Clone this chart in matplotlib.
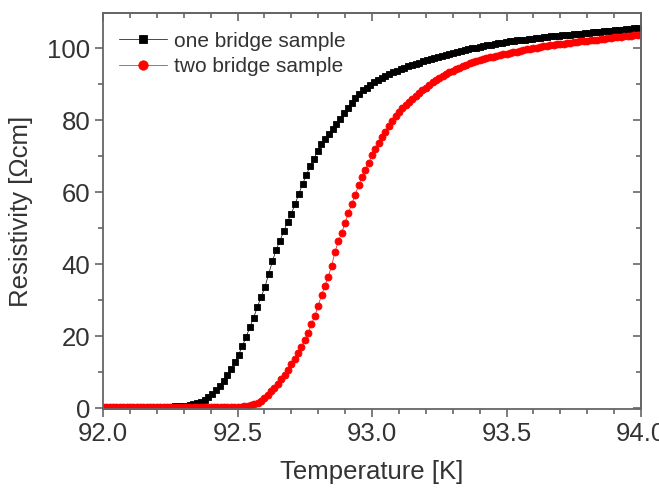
import matplotlib
matplotlib.use("Agg")
import matplotlib.pyplot as plt
from matplotlib.ticker import MultipleLocator

plt.rcParams['font.family'] = ['Liberation Sans', 'DejaVu Sans']

# one bridge sample (black squares)
black_temp = [
    92.000, 92.014, 92.028, 92.042, 92.056, 92.070, 92.084, 92.098, 92.112, 92.126,
    92.140, 92.154, 92.168, 92.182, 92.196, 92.210, 92.224, 92.238, 92.252, 92.266,
    92.280, 92.294, 92.308, 92.322, 92.336, 92.350, 92.364, 92.378, 92.392, 92.406,
    92.420, 92.434, 92.448, 92.462, 92.476, 92.490, 92.504, 92.518, 92.532, 92.546,
    92.560, 92.574, 92.588, 92.602, 92.616, 92.630, 92.644, 92.658, 92.672, 92.686,
    92.700, 92.714, 92.728, 92.742, 92.756, 92.770, 92.784, 92.798, 92.812, 92.826,
    92.840, 92.854, 92.868, 92.882, 92.896, 92.910, 92.924, 92.938, 92.952, 92.966,
    92.980, 92.994, 93.008, 93.022, 93.036, 93.050, 93.064, 93.078, 93.092, 93.106,
    93.120, 93.134, 93.148, 93.162, 93.176, 93.190, 93.204, 93.218, 93.232, 93.246,
    93.260, 93.274, 93.288, 93.302, 93.316, 93.330, 93.344, 93.358, 93.372, 93.386,
    93.400, 93.414, 93.428, 93.442, 93.456, 93.470, 93.484, 93.498, 93.512, 93.526,
    93.540, 93.554, 93.568, 93.582, 93.596, 93.610, 93.624, 93.638, 93.652, 93.666,
    93.680, 93.694, 93.708, 93.722, 93.736, 93.750, 93.764, 93.778, 93.792, 93.806,
    93.820, 93.834, 93.848, 93.862, 93.876, 93.890, 93.904, 93.918, 93.932, 93.946,
    93.960, 93.974, 93.988,
]
black_res = [
    0.5, 0.5, 0.5, 0.5, 0.5, 0.5, 0.5, 0.5, 0.5, 0.5,
    0.5, 0.5, 0.5, 0.5, 0.5, 0.5, 0.5, 0.5, 0.5, 0.6,
    0.6, 0.7, 0.8, 1.0, 1.2, 1.4, 1.9, 2.4, 3.2, 4.1,
    5.0, 6.2, 7.6, 9.2, 10.9, 12.9, 14.9, 17.3, 19.8, 22.6,
    25.2, 28.2, 31.0, 33.7, 37.4, 40.9, 44.1, 46.6, 49.2, 51.8,
    54.1, 56.7, 59.6, 62.3, 64.9, 67.2, 69.3, 71.4, 73.3, 74.9,
    76.3, 77.7, 79.1, 80.5, 82.0, 83.4, 84.8, 86.1, 87.3, 88.3,
    89.1, 89.9, 90.6, 91.2, 91.8, 92.3, 92.8, 93.3, 93.8, 94.2,
    94.6, 95.0, 95.4, 95.7, 96.0, 96.4, 96.7, 97.0, 97.3, 97.6,
    97.9, 98.2, 98.5, 98.8, 99.0, 99.2, 99.5, 99.7, 100.0, 100.2,
    100.4, 100.6, 100.8, 101.0, 101.2, 101.4, 101.6, 101.7, 101.9, 102.0,
    102.2, 102.3, 102.4, 102.6, 102.7, 102.8, 102.9, 103.0, 103.1, 103.3,
    103.4, 103.5, 103.6, 103.7, 103.8, 103.9, 104.0, 104.1, 104.2, 104.3,
    104.4, 104.5, 104.6, 104.7, 104.8, 104.9, 105.0, 105.1, 105.2, 105.3,
    105.4, 105.5, 105.6,
]

# two bridge sample (red circles)
red_temp = [
    92.0000, 92.0125, 92.0250, 92.0375, 92.0500, 92.0625, 92.0750, 92.0875,
    92.1000, 92.1125, 92.1250, 92.1375, 92.1500, 92.1625, 92.1750, 92.1875,
    92.2000, 92.2125, 92.2250, 92.2375, 92.2500, 92.2625, 92.2750, 92.2875,
    92.3000, 92.3125, 92.3250, 92.3375, 92.3500, 92.3625, 92.3750, 92.3875,
    92.4000, 92.4125, 92.4250, 92.4375, 92.4500, 92.4625, 92.4750, 92.4875,
    92.5000, 92.5125, 92.5250, 92.5375, 92.5500, 92.5625, 92.5750, 92.5875,
    92.6000, 92.6125, 92.6250, 92.6375, 92.6500, 92.6625, 92.6750, 92.6875,
    92.7000, 92.7125, 92.7250, 92.7375, 92.7500, 92.7625, 92.7750, 92.7875,
    92.8000, 92.8125, 92.8250, 92.8375, 92.8500, 92.8625, 92.8750, 92.8875,
    92.9000, 92.9125, 92.9250, 92.9375, 92.9500, 92.9625, 92.9750, 92.9875,
    93.0000, 93.0125, 93.0250, 93.0375, 93.0500, 93.0625, 93.0750, 93.0875,
    93.1000, 93.1125, 93.1250, 93.1375, 93.1500, 93.1625, 93.1750, 93.1875,
    93.2000, 93.2125, 93.2250, 93.2375, 93.2500, 93.2625, 93.2750, 93.2875,
    93.3000, 93.3125, 93.3250, 93.3375, 93.3500, 93.3625, 93.3750, 93.3875,
    93.4000, 93.4125, 93.4250, 93.4375, 93.4500, 93.4625, 93.4750, 93.4875,
    93.5000, 93.5125, 93.5250, 93.5375, 93.5500, 93.5625, 93.5750, 93.5875,
    93.6000, 93.6125, 93.6250, 93.6375, 93.6500, 93.6625, 93.6750, 93.6875,
    93.7000, 93.7125, 93.7250, 93.7375, 93.7500, 93.7625, 93.7750, 93.7875,
    93.8000, 93.8125, 93.8250, 93.8375, 93.8500, 93.8625, 93.8750, 93.8875,
    93.9000, 93.9125, 93.9250, 93.9375, 93.9500, 93.9625, 93.9750, 93.9875,
    94.0000,
]
red_res = [
    0.4, 0.4, 0.4, 0.4, 0.4, 0.4, 0.4, 0.4,
    0.4, 0.4, 0.4, 0.4, 0.4, 0.4, 0.4, 0.4,
    0.4, 0.4, 0.4, 0.4, 0.4, 0.4, 0.4, 0.4,
    0.4, 0.4, 0.4, 0.4, 0.4, 0.4, 0.4, 0.4,
    0.4, 0.4, 0.4, 0.4, 0.4, 0.4, 0.4, 0.4,
    0.4, 0.4, 0.6, 0.8, 1.0, 1.2, 1.5, 2.0,
    2.9, 3.8, 4.8, 5.8, 6.9, 8.1, 9.4, 10.8,
    12.4, 13.8, 15.4, 17.0, 18.9, 20.9, 23.4, 25.7,
    28.5, 31.5, 34.0, 36.6, 39.6, 43.5, 46.4, 48.8,
    51.5, 54.3, 56.8, 59.4, 61.9, 64.2, 66.3, 68.2,
    70.3, 72.0, 73.6, 75.3, 76.8, 78.3, 79.8, 81.1,
    82.2, 83.3, 84.3, 85.1, 85.9, 86.7, 87.5, 88.3,
    89.1, 89.9, 90.6, 91.2, 91.8, 92.4, 92.9, 93.4,
    93.8, 94.2, 94.6, 95.0, 95.4, 95.8, 96.1, 96.4,
    96.7, 97.0, 97.2, 97.5, 97.7, 97.9, 98.1, 98.3,
    98.5, 98.7, 98.9, 99.1, 99.3, 99.5, 99.7, 99.9,
    100.0, 100.2, 100.3, 100.5, 100.6, 100.8, 100.9, 101.1,
    101.2, 101.3, 101.4, 101.5, 101.7, 101.8, 101.9, 102.0,
    102.1, 102.2, 102.3, 102.4, 102.6, 102.7, 102.8, 102.9,
    103.0, 103.1, 103.2, 103.3, 103.4, 103.5, 103.6, 103.7,
    103.8,
]

series_labels = ["one bridge sample", "two bridge sample"]

text_col = "#333333"
spine_col = "#666666"

fig = plt.figure(figsize=(6.59, 4.96), dpi=100)
ax = fig.add_axes([0.1563, 0.1744, 0.8164, 0.7994])

ax.plot(black_temp, black_res, color="black", lw=0.5, marker="s", ms=4.6,
        mec="black", mew=0.6, label=series_labels[0])
ax.plot(red_temp, red_res, color="red", lw=0.5, marker="o", ms=5.0,
        mec="red", mew=0.6, label=series_labels[1])

ax.set_xlim(92.0, 94.0)
ax.set_ylim(-0.3, 109.8)
ax.xaxis.set_major_locator(MultipleLocator(0.5))
ax.xaxis.set_minor_locator(MultipleLocator(0.1))
ax.yaxis.set_major_locator(MultipleLocator(20))
ax.yaxis.set_minor_locator(MultipleLocator(10))
ax.xaxis.set_major_formatter(plt.FormatStrFormatter("%.1f"))

for sp in ax.spines.values():
    sp.set_color(spine_col)
    sp.set_linewidth(1.3)

ax.tick_params(which="both", direction="out", color=spine_col, width=1.2,
               labelsize=18.5, labelcolor=text_col, pad=3)
ax.tick_params(which="major", length=6)
ax.tick_params(which="minor", length=3.5)

# inward ticks on the top and right, as the reference has
top = ax.secondary_xaxis("top")
top.xaxis.set_major_locator(MultipleLocator(0.5))
top.xaxis.set_minor_locator(MultipleLocator(0.1))
top.tick_params(which="both", direction="in", color=spine_col, width=1.2,
                labeltop=False)
top.tick_params(which="major", length=6)
top.tick_params(which="minor", length=3.5)
top.spines["top"].set_color(spine_col)
top.spines["top"].set_linewidth(1.3)

right = ax.secondary_yaxis("right")
right.yaxis.set_major_locator(MultipleLocator(20))
right.yaxis.set_minor_locator(MultipleLocator(10))
right.tick_params(which="both", direction="in", color=spine_col, width=1.2,
                  labelright=False)
right.tick_params(which="major", length=6)
right.tick_params(which="minor", length=3.5)
right.spines["right"].set_color(spine_col)
right.spines["right"].set_linewidth(1.3)

ax.set_xlabel("Temperature [K]", fontsize=18.5, color=text_col, labelpad=10)
ax.set_ylabel("Resistivity [Ωcm]", fontsize=18.5, color=text_col, labelpad=10)

leg = ax.legend(loc="upper left", bbox_to_anchor=(-0.002, 0.995), frameon=False,
                fontsize=15, handlelength=2.3, handletextpad=0.35,
                labelspacing=0.3, markerscale=1.35, borderaxespad=0.4)
for t in leg.get_texts():
    t.set_color(text_col)

fig.savefig("out.png", dpi=100)
